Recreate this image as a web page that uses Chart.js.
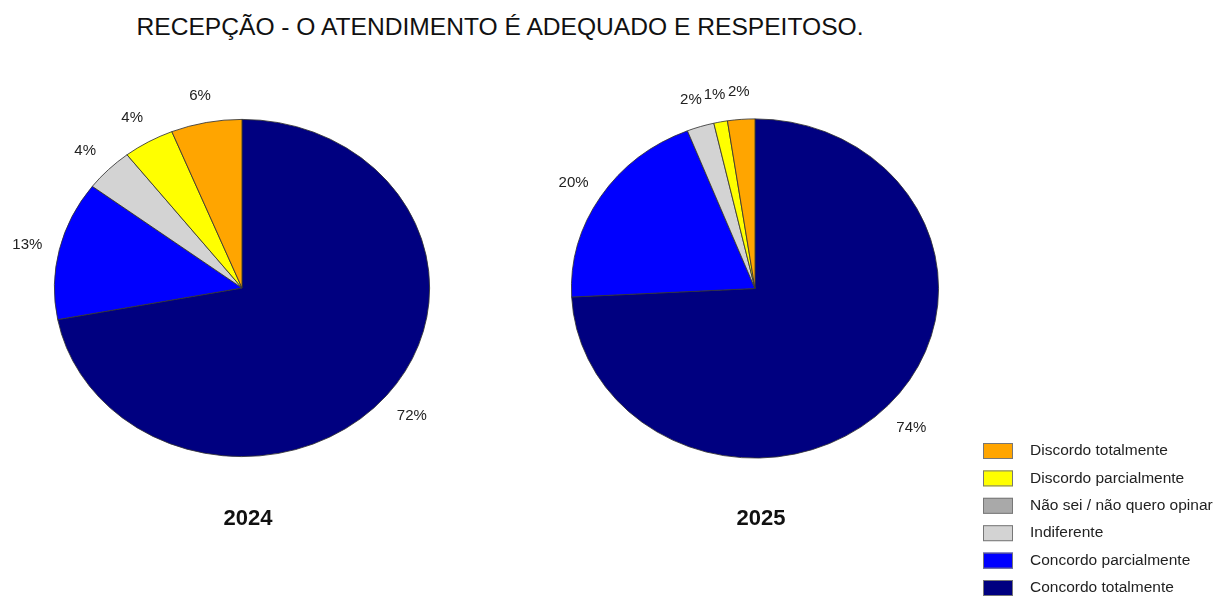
<!DOCTYPE html>
<html>
<head>
<meta charset="utf-8">
<script src="https://cdn.jsdelivr.net/npm/chart.js@4/dist/chart.umd.min.js"></script>
<style>
    body { margin: 0; background: #fff; width: 1225px; height: 596px; position: relative; overflow: hidden; }
    #title { position: absolute; left: 0; width: 1000px; top: 13px; text-align: center;
             font-family: 'Liberation Sans', Arial, sans-serif; font-size: 24.6px; color: #111; }
    canvas { position: absolute; top: 0; }
</style>
</head>
<body>
<div id="title">RECEPÇÃO - O ATENDIMENTO É ADEQUADO E RESPEITOSO.</div>
<canvas id="c2024" width="490" height="596" style="left:0"></canvas>
<canvas id="c2025" width="735" height="596" style="left:490px"></canvas>
<script>
// categories in drawing order (clockwise from 12 o'clock)
const categories = ['Concordo totalmente', 'Concordo parcialmente', 'Indiferente',
    'Não sei / não quero opinar', 'Discordo parcialmente', 'Discordo totalmente'];
const colors = ['#000080', '#0000FF', '#D3D3D3', '#A9A9A9', '#FFFF00', '#FFA500'];

// percentages
const values2024 = [72.0, 13.3, 4.2, 0, 4.4, 6.1];
const values2025 = [74.2, 19.8, 2.4, 0, 1.2, 2.4];

const FONT = "'Liberation Sans', Arial, sans-serif";

// stretch the pie horizontally so it comes out as an ellipse
const ellipsePlugin = {
    id: 'ellipse',
    beforeDatasetsDraw: (chart, args, opts) => {
        const arc = chart.getDatasetMeta(0).data[0];
        const ctx = chart.ctx;
        ctx.save();
        ctx.translate(arc.x, arc.y);
        ctx.scale(opts.sx, 1);
        ctx.translate(-arc.x, -arc.y);
    },
    afterDatasetsDraw: (chart) => {
        chart.ctx.restore();
    }
};

// percent labels outside the slices + year caption
const labelPlugin = {
    id: 'outLabels',
    afterDraw: (chart, args, opts) => {
        const { ctx } = chart;
        const meta = chart.getDatasetMeta(0);
        const data = chart.data.datasets[0].data;
        ctx.save();
        ctx.textAlign = 'center';
        ctx.textBaseline = 'middle';
        ctx.font = '15px ' + FONT;
        ctx.fillStyle = '#222';
        meta.data.forEach((arc, i) => {
            if (!data[i]) return;
            const mid = (arc.startAngle + arc.endAngle) / 2;
            const r = arc.outerRadius * 1.175;
            const x = arc.x + Math.cos(mid) * r * opts.sx;
            const y = arc.y + Math.sin(mid) * r + 2;
            ctx.fillText(Math.round(data[i]) + '%', x, y);
        });
        const arc0 = meta.data[0];
        ctx.font = 'bold 22px ' + FONT;
        ctx.fillStyle = '#111';
        ctx.fillText(opts.year, arc0.x + 6, 519);
        ctx.restore();
    }
};

// legend at bottom right (reverse order)
const legendPlugin = {
    id: 'sideLegend',
    afterDraw: (chart, args, opts) => {
        if (!opts.show) return;
        const ctx = chart.ctx;
        ctx.save();
        ctx.font = '15.5px ' + FONT;
        ctx.textBaseline = 'middle';
        ctx.textAlign = 'left';
        const items = categories.map((c, i) => ({ text: c, color: colors[i] })).reverse();
        items.forEach((it, i) => {
            const y = 451 + i * 27.4;
            ctx.fillStyle = it.color;
            ctx.fillRect(493, y - 8, 30, 16);
            ctx.strokeStyle = '#777';
            ctx.lineWidth = 1;
            ctx.strokeRect(493.5, y - 7.5, 29, 15);
            ctx.fillStyle = '#222';
            ctx.fillText(it.text, 540, y);
        });
        ctx.restore();
    }
};

function makePie(id, values, year, sx, padding, showLegend) {
    return new Chart(document.getElementById(id), {
        type: 'pie',
        data: {
            labels: categories,
            datasets: [{
                data: values,
                backgroundColor: colors,
                borderColor: '#333',
                borderWidth: 0.8
            }]
        },
        options: {
            responsive: false,
            animation: false,
            layout: { padding: padding },
            plugins: {
                legend: { display: false },
                tooltip: { enabled: false },
                ellipse: { sx: sx },
                outLabels: { sx: sx, year: year },
                sideLegend: { show: showLegend }
            }
        },
        plugins: [ellipsePlugin, labelPlugin, legendPlugin]
    });
}

makePie('c2024', values2024, '2024', 187.5 / 168.5,
    { left: 73, right: 79, top: 119, bottom: 139 }, false);
makePie('c2025', values2025, '2025', 184 / 170,
    { left: 95, right: 300, top: 118, bottom: 137 }, true);
</script>
</body>
</html>
